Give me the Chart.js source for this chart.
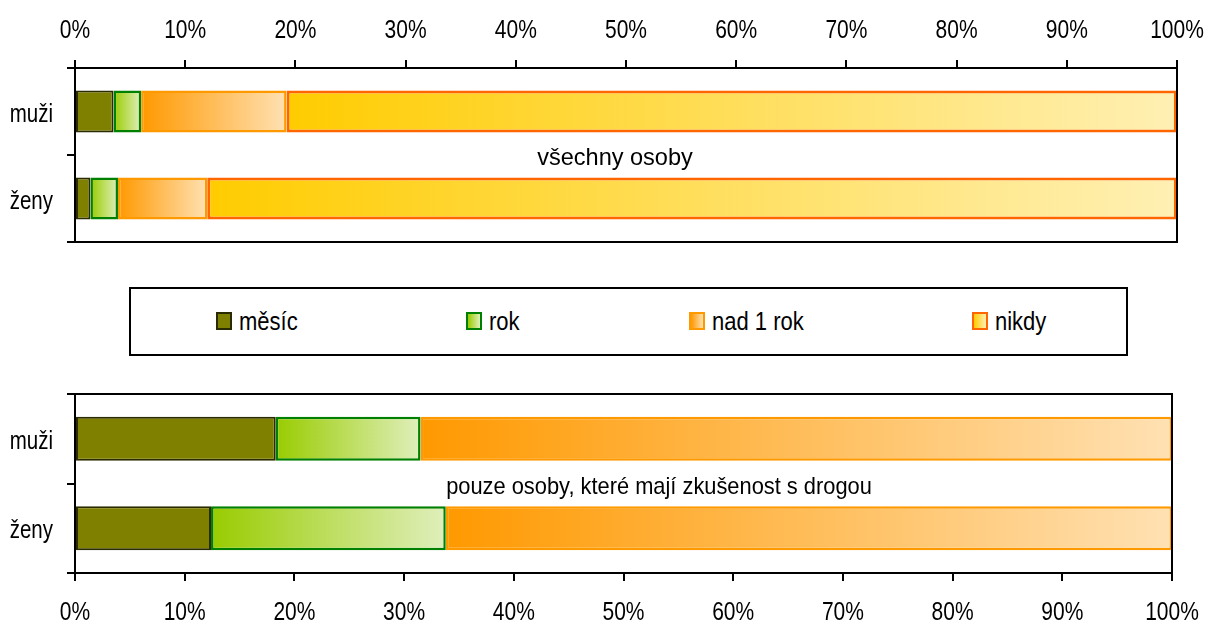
<!DOCTYPE html>
<html lang="cs">
<head>
  <meta charset="UTF-8">
  <title>Zkušenost s drogou</title>
  <script src="https://cdn.jsdelivr.net/npm/chart.js"></script>
  <style>
    body { margin: 0; width: 1205px; height: 623px; position: relative; background: #fff; overflow: hidden;
      font-family: "Liberation Sans", Arial, sans-serif; color: #000; }
    .box { position: absolute; }
    #topWrap { left: 0; top: 0; width: 1205px; height: 250px; }
    #botWrap { left: 0; top: 380px; width: 1205px; height: 243px; }
    #legend { position: absolute; left: 129px; top: 287px; width: 995px; height: 65px; border: 2px solid #000; }
    .sw { position: absolute; top: 312px; width: 12px; height: 14px; border: 2px solid; }
    .lt { position: absolute; top: 309px; font-size: 25px; line-height: 25px; white-space: nowrap;
      transform: scaleX(0.88); transform-origin: 0 0; }
  </style>
</head>
<body>
  <div class="box" id="topWrap"><canvas id="topChart"></canvas></div>
  <div class="box" id="botWrap"><canvas id="botChart"></canvas></div>
  <div id="legend"></div>

  <script>
    const groups = ['muži', 'ženy'];
    const seriesNames = ['měsíc', 'rok', 'nad 1 rok', 'nikdy'];

    // všechny osoby (%)
    const allMonth = [3.5, 1.4];
    const allYear = [2.5, 2.5];
    const allOver = [13.2, 8.1];
    const allNever = [80.8, 88.0];

    // pouze osoby se zkušeností (%)
    const usersMonth = [18.3, 12.4];
    const usersYear = [13.2, 21.4];
    const usersOver = [68.5, 66.2];

    const xTicks = [0, 10, 20, 30, 40, 50, 60, 70, 80, 90, 100];

    // [left colour, right colour, border, border width]
    const looks = [
      ['#808000', '#808000', '#2b2b00', 2],
      ['#99cc00', '#e0efbc', '#008000', 2.5],
      ['#ff9900', '#ffe1b3', '#ff9900', 2.5],
      ['#ffcc00', '#fff0b4', '#ff6600', 3]
    ];

    const FONT = '"Liberation Sans", Arial, sans-serif';

    function gradFill(look) {
      return function (ctx) {
        const chart = ctx.chart;
        if (!chart.chartArea || ctx.type !== 'data') return look[0];
        const i = ctx.dataIndex;
        let start = 0;
        for (let k = 0; k < ctx.datasetIndex; k++) start += chart.data.datasets[k].data[i];
        const end = start + chart.data.datasets[ctx.datasetIndex].data[i];
        const xs = chart.scales.x;
        const x0 = xs.getPixelForValue(start), x1 = xs.getPixelForValue(end);
        if (x1 - x0 < 1) return look[0];
        const g = chart.ctx.createLinearGradient(x0, 0, x1, 0);
        g.addColorStop(0, look[0]);
        g.addColorStop(1, look[1]);
        return g;
      };
    }

    function makeSet(idx, data, barPct) {
      return {
        label: seriesNames[idx],
        data: data,
        backgroundColor: gradFill(looks[idx]),
        borderColor: looks[idx][2],
        borderWidth: looks[idx][3],
        borderSkipped: false,
        categoryPercentage: 1,
        barPercentage: barPct
      };
    }

    // narrow text: draw squeezed horizontally
    function squeezed(c, text, x, y, sx, align) {
      c.save();
      c.translate(x, y);
      c.scale(sx, 1);
      c.textAlign = align;
      c.fillText(text, 0, 0);
      c.restore();
    }

    // frame round the plot, axis labels and the note
    const dressing = {
      id: 'dressing',
      afterDraw(chart, args, o) {
        const a = chart.chartArea, c = chart.ctx;
        c.save();
        c.strokeStyle = '#000';
        c.lineWidth = 2;
        c.strokeRect(a.left, a.top, a.right - a.left, a.bottom - a.top);
        c.fillStyle = '#000';
        c.textBaseline = 'alphabetic';
        c.font = '25px ' + FONT;
        const xs = chart.scales.x, ys = chart.scales.y;
        xTicks.forEach(v => squeezed(c, v + '%', xs.getPixelForValue(v), o.xBase, 0.84, 'center'));
        chart.data.labels.forEach((l, i) => squeezed(c, l, 53, ys.getPixelForValue(i) + 10, 0.82, 'right'));
        c.font = o.noteSize + 'px ' + FONT;
        squeezed(c, o.note, o.noteX, o.noteY, o.noteScale, 'center');
        c.restore();
      }
    };

    function options(pos, xHeight, pad, extra) {
      return {
        indexAxis: 'y',
        responsive: true,
        maintainAspectRatio: false,
        animation: false,
        layout: { padding: pad },
        plugins: { legend: { display: false }, tooltip: { enabled: false }, dressing: extra },
        scales: {
          x: {
            position: pos,
            stacked: true,
            min: 0,
            max: 100,
            afterBuildTicks: s => { s.ticks = xTicks.map(v => ({ value: v })); },
            afterFit: s => { s.height = xHeight; },
            ticks: { display: false },
            grid: { drawOnChartArea: false, tickLength: 8, color: '#000', lineWidth: 2 },
            border: { color: '#000', width: 2 }
          },
          y: {
            stacked: true,
            afterFit: s => { s.width = 75; },
            ticks: { display: false },
            grid: { offset: true, drawOnChartArea: false, tickLength: 8, color: '#000', lineWidth: 2 },
            border: { color: '#000', width: 2 }
          }
        }
      };
    }

    new Chart(document.getElementById('topChart'), {
      type: 'bar',
      data: {
        labels: groups,
        datasets: [
          makeSet(0, allMonth, 0.48),
          makeSet(1, allYear, 0.48),
          makeSet(2, allOver, 0.48),
          makeSet(3, allNever, 0.48)
        ]
      },
      options: options('top', 68, { left: 0, right: 28, top: 0, bottom: 8 },
        { xBase: 38, note: 'všechny osoby', noteX: 615, noteY: 165, noteSize: 24, noteScale: 0.98 }),
      plugins: [dressing]
    });

    new Chart(document.getElementById('botChart'), {
      type: 'bar',
      data: {
        labels: groups,
        datasets: [
          makeSet(0, usersMonth, 0.49),
          makeSet(1, usersYear, 0.49),
          makeSet(2, usersOver, 0.49)
        ]
      },
      options: options('bottom', 50, { left: 0, right: 33, top: 14, bottom: 0 },
        { xBase: 240, note: 'pouze osoby, které mají zkušenost s drogou', noteX: 659, noteY: 114, noteSize: 24, noteScale: 0.91 }),
      plugins: [dressing]
    });

    // legenda
    const swatchX = [216, 466, 689, 972];
    seriesNames.forEach((name, i) => {
      const sw = document.createElement('div');
      sw.className = 'sw';
      sw.style.left = swatchX[i] + 'px';
      sw.style.borderColor = looks[i][2];
      sw.style.background = 'linear-gradient(to right, ' + looks[i][0] + ', ' + looks[i][1] + ')';
      document.body.appendChild(sw);
      const t = document.createElement('div');
      t.className = 'lt';
      t.style.left = (swatchX[i] + 23) + 'px';
      t.textContent = name;
      document.body.appendChild(t);
    });
  </script>
</body>
</html>
